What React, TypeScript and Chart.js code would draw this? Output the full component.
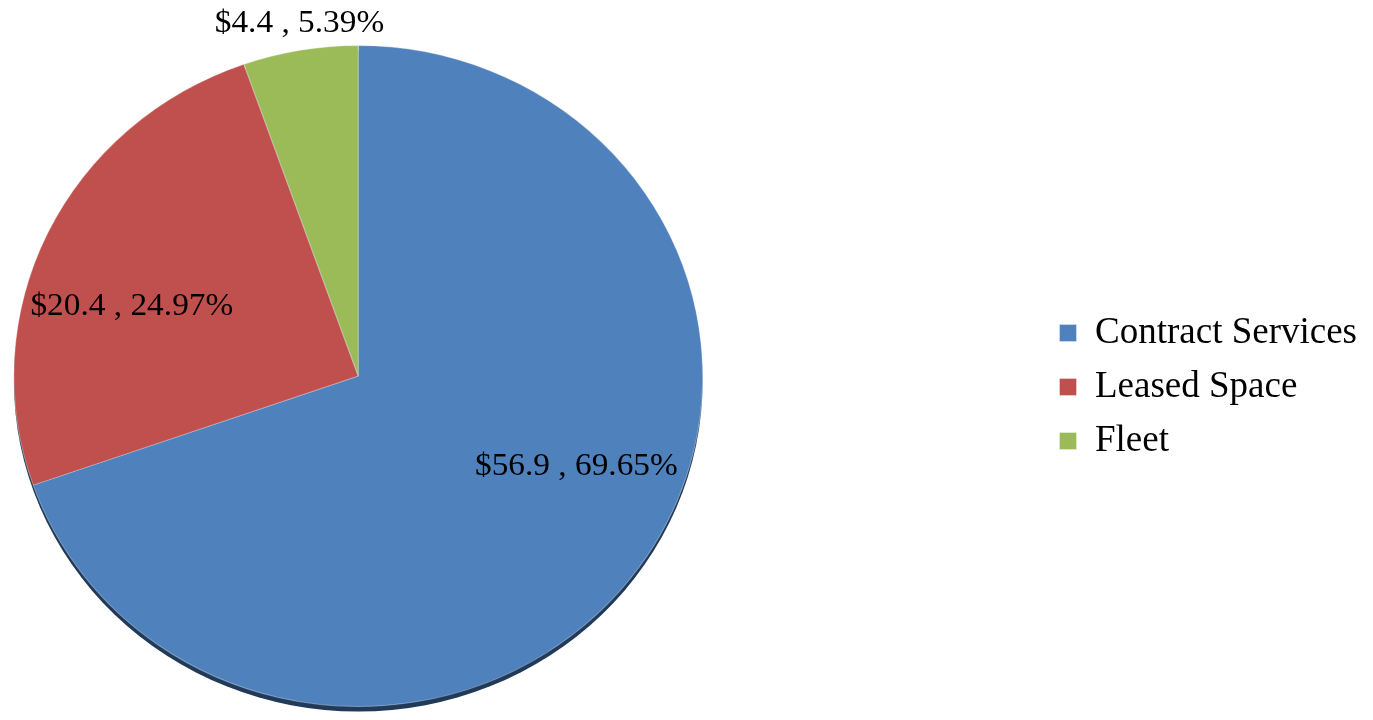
import React, { useEffect, useRef } from "react";
import { Chart, registerables } from "chart.js";

Chart.register(...registerables);

const categories = ["Contract Services", "Leased Space", "Fleet"];
const amounts = [56.9, 20.4, 4.4];
const percents = ["69.65%", "24.97%", "5.39%"];
const colors = ["#4F81BD", "#C0504D", "#9BBB59"];

// label placement relative to each slice: angle nudge (deg), radius fraction
const labelNudgeDeg = [-12, -8, 0.6];
const labelRadiusFrac = [0.69, 0.69, 1.08];

const FONT = "'Liberation Serif', 'Times New Roman', serif";
const CANVAS_SHIFT = 326;
const X_STRETCH = 1.042; // slight horizontal stretch, as in the reference's tilted pie

const stretchPlugin = {
  id: "pieStretch",
  beforeDatasetsDraw(chart: any) {
    const meta = chart.getDatasetMeta(0);
    const arc = meta.data[0];
    if (!arc) return;
    const { x, y, outerRadius } = arc.getProps(["x", "y", "outerRadius"], true);
    const ctx = chart.ctx;
    ctx.save();
    ctx.translate(x, y);
    ctx.scale(X_STRETCH, 1);
    ctx.translate(-x, -y);
    // bottom edge shadow
    ctx.save();
    ctx.fillStyle = "#213A5A";
    ctx.beginPath();
    ctx.arc(x, y + 5, outerRadius, 0, Math.PI * 2);
    ctx.fill();
    ctx.restore();
  },
  afterDatasetsDraw(chart: any) {
    chart.ctx.restore();
  },
};

const labelPlugin = {
  id: "sliceLabels",
  afterDatasetsDraw(chart: any) {
    const meta = chart.getDatasetMeta(0);
    const ctx = chart.ctx;
    ctx.save();
    ctx.font = `32px ${FONT}`;
    ctx.fillStyle = "#000";
    ctx.textAlign = "center";
    ctx.textBaseline = "middle";
    meta.data.forEach((arc: any, i: number) => {
      const { x, y, startAngle, endAngle, outerRadius } = arc.getProps(
        ["x", "y", "startAngle", "endAngle", "outerRadius"],
        true
      );
      const mid = (startAngle + endAngle) / 2 + (labelNudgeDeg[i] * Math.PI) / 180;
      const d = labelRadiusFrac[i] * outerRadius;
      const text = `$${amounts[i].toFixed(1)} , ${percents[i]}`;
      ctx.fillText(text, x + Math.cos(mid) * d, y + Math.sin(mid) * d);
    });
    ctx.restore();
  },
};

export default function App() {
  const ref = useRef<HTMLCanvasElement | null>(null);
  useEffect(() => {
    if (!ref.current) return;
    const chart = new Chart(ref.current, {
      type: "pie",
      data: {
        labels: categories,
        datasets: [
          {
            data: amounts,
            backgroundColor: colors,
            borderColor: "rgba(255,255,255,0.35)",
            borderWidth: 1,
          },
        ],
      },
      options: {
        animation: false,
        responsive: true,
        maintainAspectRatio: false,
        layout: { padding: { left: 0, right: 6, top: 45, bottom: 13 } },
        plugins: {
          tooltip: { enabled: false },
          legend: {
            position: "right",
            title: { display: true, text: "", font: { size: 10 }, padding: { top: 5, bottom: 5 } },
            labels: {
              font: { family: FONT, size: 37 },
              color: "#000",
              boxWidth: 17,
              boxHeight: 17,
              padding: 17,
            },
          },
        },
      },
      plugins: [labelPlugin, stretchPlugin],
    });
    return () => chart.destroy();
  }, []);
  return (
    <div
      style={{
        position: "fixed",
        left: 0,
        top: 0,
        width: 1373,
        height: 720,
        overflow: "hidden",
        background: "#fff",
      }}
    >
      <div style={{ position: "absolute", left: -CANVAS_SHIFT, top: 0, width: 1373 + CANVAS_SHIFT, height: 720 }}>
        <canvas ref={ref} />
      </div>
    </div>
  );
}
